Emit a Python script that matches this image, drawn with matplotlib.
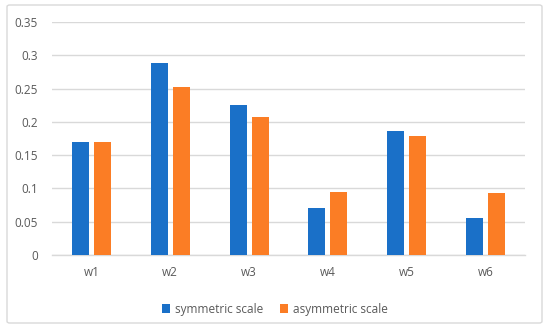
import matplotlib.pyplot as plt
import numpy as np
from matplotlib.patches import FancyBboxPatch

# Weights per scale
categories = ['w1', 'w2', 'w3', 'w4', 'w5', 'w6']
symmetric = [0.170, 0.288, 0.226, 0.071, 0.187, 0.055]
asymmetric = [0.170, 0.253, 0.208, 0.095, 0.179, 0.093]
yticks = [0, 0.05, 0.1, 0.15, 0.2, 0.25, 0.3, 0.35]
ytick_labels = ['0', '0.05', '0.1', '0.15', '0.2', '0.25', '0.3', '0.35']

blue = '#1A70C8'
orange = '#FB7D25'
grey_text = '#595959'

plt.rcParams['font.family'] = ['Open Sans', 'DejaVu Sans']

fig = plt.figure(figsize=(5.5, 3.32), dpi=100)
fig.patch.set_facecolor('white')

# light rounded frame around the chart
frame = FancyBboxPatch((7 / 550, 1 - 323 / 332), 535 / 550, 318 / 332,
                       boxstyle='round,pad=0,rounding_size=0.005',
                       transform=fig.transFigure, facecolor='none',
                       edgecolor='#D9D9D9', linewidth=1.0, zorder=-1)
fig.patches.append(frame)

ax = fig.add_axes([52 / 550, 1 - 255 / 332, 473 / 550, 233 / 332])
ax.set_facecolor('none')

x = np.arange(len(categories))
w = 0.216
gap = 0.063
ax.bar(x - (w + gap) / 2, symmetric, width=w, color=blue, label='symmetric scale', zorder=3)
ax.bar(x + (w + gap) / 2, asymmetric, width=w, color=orange, label='asymmetric scale', zorder=3)

ax.set_xlim(-0.5, len(categories) - 0.5)
ax.set_ylim(0, 0.35)
ax.set_yticks(yticks)
ax.set_yticklabels(ytick_labels)
ax.set_xticks(x)
ax.set_xticklabels(categories)

ax.grid(axis='y', color='#D9D9D9', linewidth=1.0, zorder=0)
for s in ['top', 'right', 'left']:
    ax.spines[s].set_visible(False)
ax.spines['bottom'].set_color('#D9D9D9')
ax.spines['bottom'].set_linewidth(1.0)
ax.tick_params(axis='both', length=0, colors=grey_text, labelsize=8.5)
ax.tick_params(axis='y', pad=10)
ax.tick_params(axis='x', pad=8)

fig.legend(loc='upper center', bbox_to_anchor=(0.5, 1 - 292 / 332), ncol=2, frameon=False,
           fontsize=8.5, labelcolor=grey_text, handlelength=0.7, handleheight=0.7,
           handletextpad=0.4, columnspacing=1.4)

fig.savefig('out.png', dpi=100)
